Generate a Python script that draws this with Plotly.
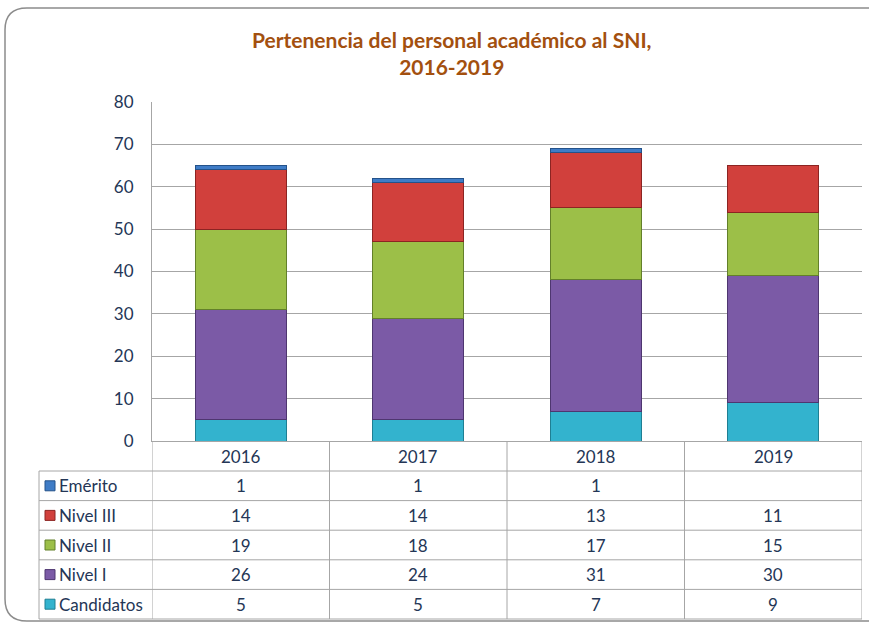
import plotly.graph_objects as go

years = ["2016", "2017", "2018", "2019"]
candidatos = [5, 5, 7, 9]
nivel_1 = [26, 24, 31, 30]
nivel_2 = [19, 18, 17, 15]
nivel_3 = [14, 14, 13, 11]
emerito = [1, 1, 1, None]

# stack order, bottom to top
series = [
    ("Candidatos", candidatos, "#33B3CE", "#1F7F93"),
    ("Nivel I", nivel_1, "#7B5AA6", "#4E3670"),
    ("Nivel II", nivel_2, "#9CBF48", "#63802A"),
    ("Nivel III", nivel_3, "#D1403C", "#8C2422"),
    ("Emérito", emerito, "#3F7CC6", "#24528A"),
]

W, H = 869, 623
L, R, T, B = 152, 7, 102, 182
pw, ph = W - L - R, H - T - B
FONT = "Lato, sans-serif"
TXT = "#243656"
GRID = "#A6A6A6"


def px_x(p):
    return (p - L) / pw


def px_y(p):
    return (H - B - p) / ph


fig = go.Figure()
for name, vals, col, edge in series:
    fig.add_trace(go.Bar(
        x=list(range(len(years))), y=vals, name=name, width=0.51,
        marker=dict(color=col, line=dict(color=edge, width=1)),
        showlegend=False,
    ))

shapes = []
annotations = []

# outer rounded chart border
x0, y0 = px_x(5), px_y(621)
x1, y1 = px_x(880), px_y(8)
rx, ry = 22 / pw, 22 / ph
shapes.append(dict(
    type="path", xref="paper", yref="paper",
    path=(f"M {x1},{y1} L {x0 + rx},{y1} Q {x0},{y1} {x0},{y1 - ry} "
          f"L {x0},{y0 + ry} Q {x0},{y0} {x0 + rx},{y0} L {x1},{y0}"),
    line=dict(color="#8C8C8C", width=1.5),
))

# data table
row_h = 29.6
header_top = H - B
header_bot = header_top + 30
row_tops = [header_bot + i * row_h for i in range(6)]
tab_left = px_x(39)
cell_font = dict(family=FONT, size=17, color=TXT)

for i in range(len(years) + 1):
    shapes.append(dict(type="line", xref="x", yref="paper",
                       x0=i - 0.5, x1=i - 0.5, y0=px_y(header_top), y1=px_y(row_tops[-1]),
                       line=dict(color=GRID, width=1)))
shapes.append(dict(type="line", xref="paper", yref="paper",
                   x0=tab_left, x1=tab_left, y0=px_y(row_tops[0]), y1=px_y(row_tops[-1]),
                   line=dict(color=GRID, width=1)))
for yt in row_tops:
    shapes.append(dict(type="line", xref="paper", yref="paper",
                       x0=tab_left, x1=1, y0=px_y(yt), y1=px_y(yt),
                       line=dict(color=GRID, width=1)))

for i, yr in enumerate(years):
    annotations.append(dict(x=i, y=px_y((header_top + header_bot) / 2), xref="x", yref="paper",
                            xanchor="center", yanchor="middle",
                            text=yr, showarrow=False, font=cell_font))

# rows (top to bottom = reverse stack order)
for r, (name, vals, col, edge) in enumerate(reversed(series)):
    yc = px_y(row_tops[r] + row_h / 2)
    shapes.append(dict(type="rect", xref="paper", yref="paper",
                       x0=px_x(45), x1=px_x(55), y0=yc - 5 / ph, y1=yc + 5 / ph,
                       fillcolor=col, line=dict(color=edge, width=1)))
    annotations.append(dict(x=px_x(57), y=yc, xref="paper", yref="paper",
                            xanchor="left", yanchor="middle",
                            text=name, showarrow=False, font=cell_font))
    for i, v in enumerate(vals):
        if v is None:
            continue
        annotations.append(dict(x=i, y=yc, xref="x", yref="paper",
                                xanchor="center", yanchor="middle",
                                text=str(v), showarrow=False, font=cell_font))

# title
annotations.append(dict(
    x=px_x(452), y=px_y(53), xref="paper", yref="paper",
    xanchor="center", yanchor="middle",
    text="<b>Pertenencia del personal académico al SNI,<br>2016-2019</b>",
    showarrow=False, font=dict(family=FONT, size=21, color="#A3500F"),
))

fig.update_layout(
    width=W, height=H,
    margin=dict(l=L, r=R, t=T, b=B),
    barmode="stack",
    plot_bgcolor="white", paper_bgcolor="white",
    shapes=shapes, annotations=annotations,
    xaxis=dict(type="linear", showticklabels=False, ticks="", range=[-0.5, 3.5], showgrid=False,
               zeroline=False, showline=True, linecolor=GRID, linewidth=1),
    yaxis=dict(range=[0, 80], dtick=10, showgrid=True, gridcolor=GRID, gridwidth=1,
               showline=True, linecolor=GRID, linewidth=1, zeroline=False,
               ticks="", ticklabelstandoff=14,
               tickfont=dict(family=FONT, size=17, color=TXT)),
)

fig.write_html("out.html", config={"displayModeBar": False},
               post_script="document.body.style.margin='0';")
